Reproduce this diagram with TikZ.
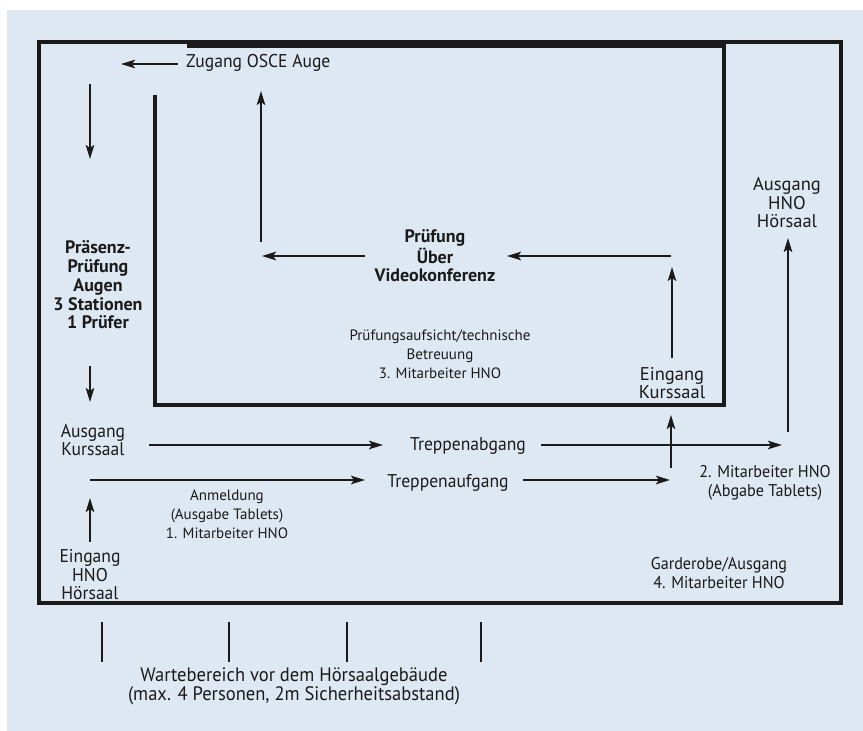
\documentclass[tikz,border=0pt]{standalone}
\usepackage{fontspec}
\setmainfont{PT Sans}
\newfontfamily\narrowfont[FakeStretch=0.95]{PT Sans}
\usetikzlibrary{arrows.meta}

\definecolor{bgblue}{RGB}{222,232,243}
\definecolor{ink}{RGB}{26,26,26}

\tikzset{
  arr/.style={draw=ink, line width=2pt, -{Stealth[length=14pt,width=8.5pt,inset=3pt]}},
  wall/.style={draw=ink, line width=4pt},
  lbl/.style={align=center, inner sep=0pt, text=ink, font=\fontsize{18.5}{18.5}\selectfont},
  nlbl/.style={align=center, inner sep=0pt, text=ink, font=\narrowfont\fontsize{18.5}{18.5}\selectfont},
  slbl/.style={align=center, inner sep=0pt, text=ink, font=\fontsize{15}{19}\selectfont},
  snlbl/.style={align=center, inner sep=0pt, text=ink, font=\narrowfont\fontsize{17}{19.5}\selectfont},
  blbl/.style={align=center, inner sep=0pt, text=ink, font=\bfseries\fontsize{18}{18.7}\selectfont},
}

\begin{document}
\begin{tikzpicture}[x=1pt, y=-1pt]
    \useasboundingbox (0,0) rectangle (863,731);
    \fill[bgblue] (7,10) rectangle (863,731);

    % building and exam room
    \draw[wall] (39,42) rectangle (841,603);
    \draw[wall, line width=3.5pt] (155,95) -- (155,405) -- (724,405) -- (724,46) -- (187,46);

    % texts
    \node[nlbl, anchor=west] (zugang) at (186,63) {Zugang OSCE Auge};
    \node[blbl] (praesenz) at (98,285) {Präsenz-\\Prüfung\\Augen\\3 Stationen\\1 Prüfer};
    \node[blbl] (video) at (435,256) {Prüfung\\Über\\Videokonferenz};
    \node[slbl] (aufsicht) at (440,354) {Prüfungsaufsicht/technische\\Betreuung\\3. Mitarbeiter HNO};
    \node[lbl] (einK) at (672,383) {Eingang\\Kurssaal};
    \node[lbl] (ausHNO) at (787,203) {Ausgang\\HNO\\Hörsaal};
    \node[nlbl] (ausK) at (93,440) {Ausgang\\Kurssaal};
    \node[nlbl] (abgang) at (468,446) {Treppenabgang};
    \node[nlbl] (aufgang) at (448,483) {Treppenaufgang};
    \node[slbl] (anmeldung) at (227,514) {Anmeldung\\(Ausgabe Tablets)\\1. Mitarbeiter HNO};
    \node[snlbl] (abgabe) at (765,483) {2. Mitarbeiter HNO\\(Abgabe Tablets)};
    \node[snlbl] (garderobe) at (719,573) {Garderobe/Ausgang\\4. Mitarbeiter HNO};
    \node[nlbl] (einHNO) at (90,575) {Eingang\\HNO\\Hörsaal};
    \node[nlbl, font=\narrowfont\fontsize{19.5}{19}\selectfont] (warten) at (294,686) {Wartebereich vor dem Hörsaalgebäude\\(max. 4 Personen, 2m Sicherheitsabstand)};

    % arrow ends
    \coordinate (zugEnd) at (121,64);
    \coordinate (downA) at (90,84);
    \coordinate (downB) at (90,159);
    \coordinate (downC) at (90,366);
    \coordinate (downD) at (90,402);
    \coordinate (upA) at (90,542);
    \coordinate (upB) at (90,498);
    \coordinate (aufA) at (90,480);
    \coordinate (aufB) at (365,480);
    \coordinate (aufC) at (523,480);
    \coordinate (aufD) at (670,480);
    \coordinate (kurA) at (671,468);
    \coordinate (kurB) at (671,415);
    \coordinate (einA) at (672,358);
    \coordinate (einB) at (672,267);
    \coordinate (vidA) at (671,256);
    \coordinate (vidB) at (507,256);
    \coordinate (vidC) at (365,256);
    \coordinate (vidD) at (262,256);
    \coordinate (osceA) at (261,242);
    \coordinate (osceB) at (261,91);
    \coordinate (abA) at (149,445);
    \coordinate (abB) at (383,445);
    \coordinate (abC) at (541,445);
    \coordinate (abD) at (782,445);
    \coordinate (hnoA) at (788,432);
    \coordinate (hnoB) at (788,238);

    % way through the building
    \draw[arr] (zugang.west) ++(-8,1) -- (zugEnd);
    \draw[arr] (downA) -- (downB);
    \draw[arr] (downC) -- (downD);
    \draw[arr] (upA) -- (upB);
    \draw[arr] (aufA) -- (aufB);
    \draw[arr] (aufC) -- (aufD);
    \draw[arr] (kurA) -- (kurB);
    \draw[arr] (einA) -- (einB);
    \draw[arr] (vidA) -- (vidB);
    \draw[arr] (vidC) -- (vidD);
    \draw[arr] (osceA) -- (osceB);
    \draw[arr] (abA) -- (abB);
    \draw[arr] (abC) -- (abD);
    \draw[arr] (hnoA) -- (hnoB);

    % waiting area
    \foreach \wx in {102,229,347,481}
        \draw[ink, line width=1.6pt] (\wx,622) -- (\wx,662);
\end{tikzpicture}
\end{document}
